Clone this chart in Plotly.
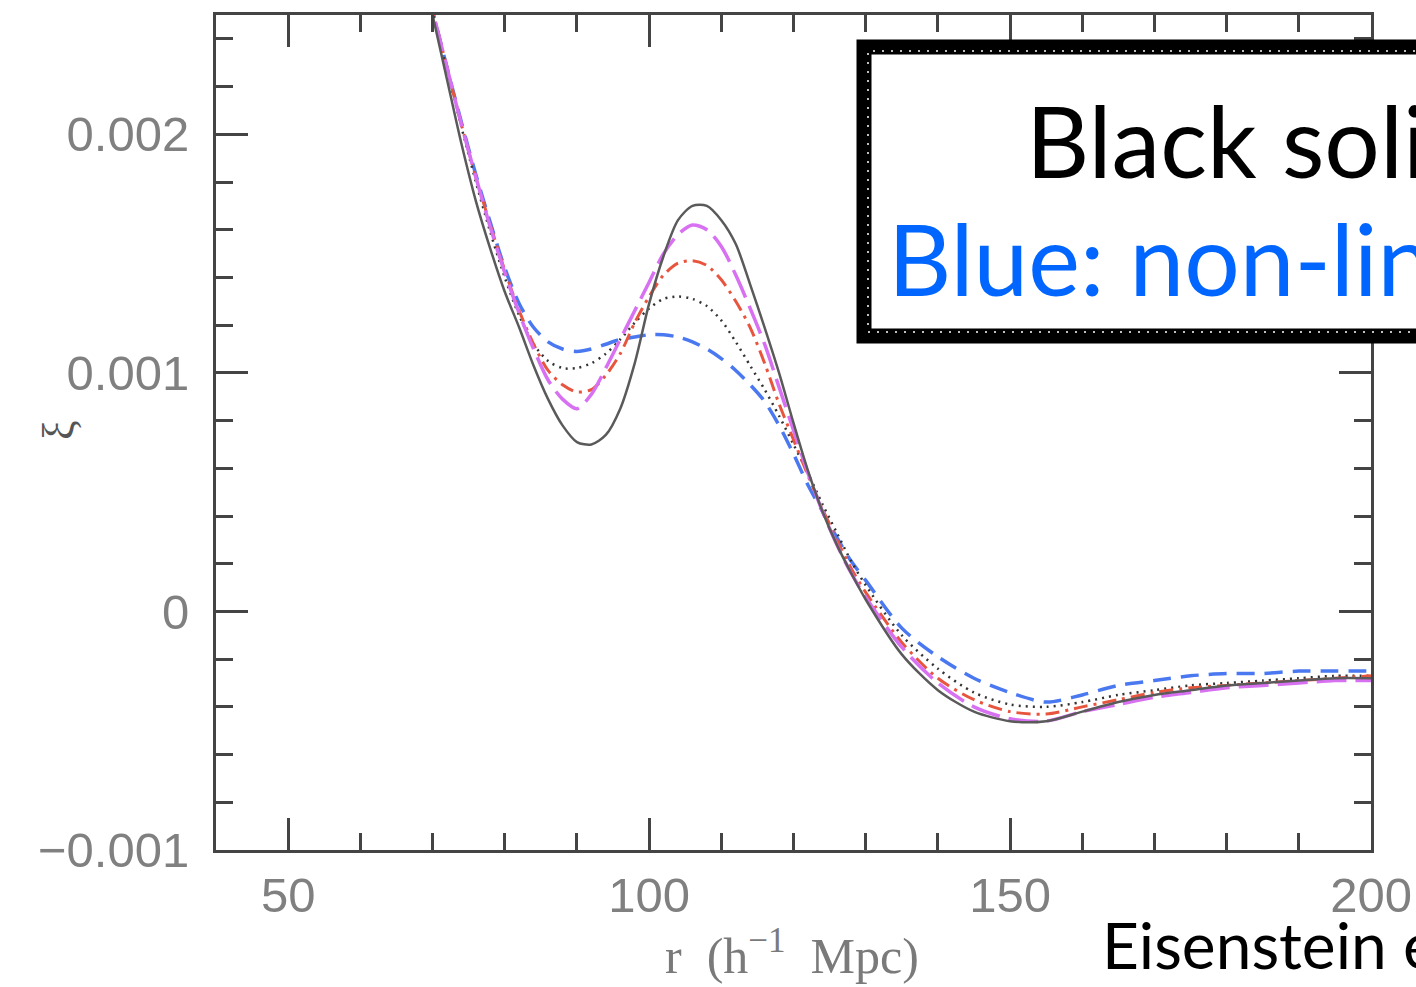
import plotly.graph_objects as go

# Separation r (h^-1 Mpc) at which each correlation function is sampled
r = [68, 70, 72, 74, 76, 78, 80, 82, 84, 86, 88, 90, 92, 94, 96, 98, 100,
     102, 104, 106, 108, 110, 112, 114, 116, 118, 120, 122, 124, 126, 128,
     130, 135, 140, 145, 150, 155, 160, 165, 170, 175, 180, 185, 190, 195, 200]

# Linear theory (black solid)
xi_linear = [0.00278, 0.00250, 0.00223, 0.00196, 0.00172, 0.00152, 0.00134, 0.00119,
             0.00103, 0.00089, 0.00078, 0.00071, 0.00070, 0.00074, 0.00085, 0.00104,
             0.00129, 0.00149, 0.00164, 0.00170, 0.00170, 0.00164, 0.00154, 0.00137,
             0.00119, 0.00100, 0.00079, 0.00059, 0.00042, 0.00028, 0.00016, 0.00005,
             -0.00018, -0.00033, -0.00042, -0.00046, -0.00046, -0.00042, -0.00038,
             -0.00035, -0.00033, -0.00031, -0.00030, -0.00029, -0.00028, -0.00028]

# Mildly smoothed (magenta long dash)
xi_magenta = [0.00279, 0.00252, 0.00228, 0.00204, 0.00182, 0.00161, 0.00142, 0.00125,
              0.00110, 0.00097, 0.00089, 0.00085, 0.00091, 0.00102, 0.00114, 0.00126,
              0.00138, 0.00150, 0.00158, 0.00162, 0.00160, 0.00153, 0.00141, 0.00127,
              0.00112, 0.00094, 0.00076, 0.00058, 0.00042, 0.00028, 0.00016, 0.00006,
              -0.00015, -0.00030, -0.00040, -0.00045, -0.00046, -0.00042, -0.00039,
              -0.00036, -0.00034, -0.00032, -0.00031, -0.00030, -0.00029, -0.00029]

# Red dash-dot
xi_red = [0.00279, 0.00252, 0.00228, 0.00204, 0.00182, 0.00162, 0.00143, 0.00126,
          0.00112, 0.00101, 0.00095, 0.00092, 0.00093, 0.00099, 0.00108, 0.00121,
          0.00132, 0.00141, 0.00146, 0.00147, 0.00145, 0.00139, 0.00130, 0.00119,
          0.00104, 0.00087, 0.00072, 0.00057, 0.00043, 0.00030, 0.00018, 0.00008,
          -0.00013, -0.00028, -0.00037, -0.00042, -0.00043, -0.00040, -0.00037,
          -0.00034, -0.00032, -0.00031, -0.00030, -0.00029, -0.00028, -0.00027]

# Black dotted
xi_dotted = [0.00278, 0.00251, 0.00227, 0.00203, 0.00180, 0.00159, 0.00140, 0.00124,
             0.00112, 0.00105, 0.00102, 0.00102, 0.00104, 0.00108, 0.00114, 0.00121,
             0.00127, 0.00131, 0.00132, 0.00131, 0.00128, 0.00122, 0.00113, 0.00103,
             0.00093, 0.00082, 0.00070, 0.00058, 0.00045, 0.00033, 0.00021, 0.00011,
             -0.00010, -0.00024, -0.00034, -0.00039, -0.00040, -0.00038, -0.00035,
             -0.00033, -0.00031, -0.00030, -0.00029, -0.00028, -0.00027, -0.00027]

# Non-linear (blue dashed)
xi_nonlinear = [0.00279, 0.00252, 0.00228, 0.00205, 0.00183, 0.00163, 0.00144, 0.00129,
                0.00119, 0.00113, 0.00110, 0.00109, 0.00110, 0.00112, 0.00114, 0.00115,
                0.00116, 0.00116, 0.00115, 0.00113, 0.00110, 0.00106, 0.00101, 0.00095,
                0.00088, 0.00078, 0.00066, 0.00053, 0.00042, 0.00031, 0.00021, 0.00013,
                -0.00007, -0.00019, -0.00028, -0.00034, -0.00038, -0.00035, -0.00031,
                -0.00029, -0.00027, -0.00026, -0.00026, -0.00025, -0.00025, -0.00025]

x_ticks = [50, 100, 150, 200]
y_ticks = [-0.001, 0, 0.001, 0.002]
y_tick_text = ["\u22120.001", "0", "0.001", "0.002"]

W, H = 1416, 987
L, R, T, B = 216, 45, 15, 137
PW, PH = W - L - R, H - T - B


def px(xpix):
    return (xpix - L) / PW


def py(ypix):
    return (H - B - ypix) / PH


fig = go.Figure()

series = [
    (xi_nonlinear, "#4a78f0", "18px,10px", 3.5),
    (xi_dotted, "#333333", "2px,5px", 2.5),
    (xi_red, "#e8553f", "14px,6px,3px,6px", 3),
    (xi_magenta, "#d870f2", "30px,9px", 3.5),
    (xi_linear, "#5a5a5a", "solid", 2.5),
]
for ys, col, dash, w in series:
    fig.add_trace(go.Scatter(
        x=r, y=ys, mode="lines",
        line=dict(color=col, dash=dash, width=w, shape="spline", smoothing=0.8),
        showlegend=False, hoverinfo="skip",
    ))

axis_common = dict(
    showline=True, linecolor="#444444", linewidth=3, mirror="allticks",
    ticks="inside", ticklen=32, tickwidth=3, tickcolor="#444444",
    showgrid=False, zeroline=False, automargin=False,
    ticklabeloverflow="allow",
    tickfont=dict(family="Liberation Sans", size=49, color="#808080"),
)

fig.update_xaxes(
    range=[40, 200], tickvals=x_ticks, ticktext=[str(v) for v in x_ticks],
    minor=dict(dtick=10, tick0=0, ticks="inside", ticklen=17, tickwidth=3,
               tickcolor="#444444", showgrid=False),
    ticklabelstandoff=0,
    **axis_common,
)
fig.update_yaxes(
    range=[-0.001, 0.0025], tickvals=y_ticks, ticktext=y_tick_text,
    minor=dict(dtick=0.0002, tick0=0, ticks="inside", ticklen=17, tickwidth=3,
               tickcolor="#444444", showgrid=False),
    ticklabelstandoff=14,
    **axis_common,
)

# axis titles
fig.add_annotation(
    xref="paper", yref="paper", x=px(792), y=py(953), xanchor="center", yanchor="middle",
    text="r  (h<sup>\u22121</sup>  Mpc)", showarrow=False,
    font=dict(family="Liberation Serif", size=50, color="#7a7a7a"),
)
fig.add_annotation(
    xref="paper", yref="paper", x=px(58), y=py(430), xanchor="center", yanchor="middle",
    textangle=-90, text="\u03be", showarrow=False,
    font=dict(family="Liberation Serif", size=44, color="#555555"),
)

# framed caption box
box_l, box_r, box_t, box_b = px(864), px(1460), py(47), py(336)
fig.add_shape(type="rect", xref="paper", yref="paper",
              x0=box_l, x1=box_r, y0=box_b, y1=box_t,
              fillcolor="white", line=dict(color="black", width=15), layer="above")
fig.add_shape(type="rect", xref="paper", yref="paper",
              x0=px(868), x1=box_r, y0=py(332), y1=py(51),
              fillcolor="rgba(0,0,0,0)", line=dict(color="white", width=1.5, dash="2px,7px"),
              layer="above")

fig.add_annotation(
    xref="paper", yref="paper", x=px(1024), y=py(140), xanchor="left", yanchor="middle",
    text="Black solid: linear", showarrow=False,
    font=dict(family="Lato", size=98, color="black"),
)
fig.add_annotation(
    xref="paper", yref="paper", x=px(886), y=py(258), xanchor="left", yanchor="middle",
    text="Blue: non-linear", showarrow=False,
    font=dict(family="Lato", size=98, color="#0066ff"),
)
fig.add_annotation(
    xref="paper", yref="paper", x=px(1100), y=py(944), xanchor="left", yanchor="middle",
    text="Eisenstein et al. 2007", showarrow=False,
    font=dict(family="Lato", size=64, color="black"),
)

fig.update_layout(
    width=W, height=H,
    margin=dict(l=L, r=R, t=T, b=B),
    paper_bgcolor="white", plot_bgcolor="white",
)

fig.write_html("out.html")
